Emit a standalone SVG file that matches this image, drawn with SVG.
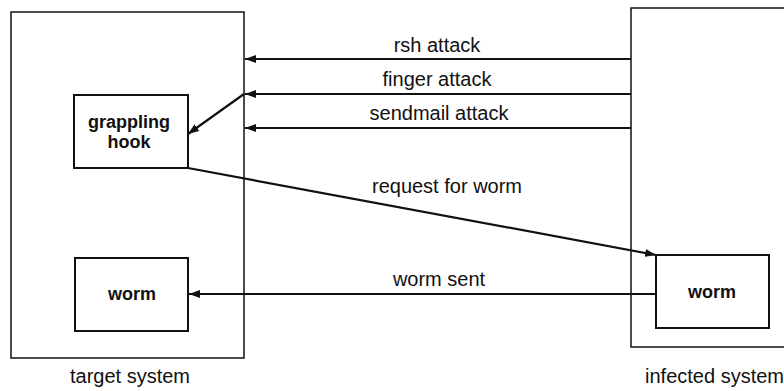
<svg xmlns="http://www.w3.org/2000/svg" width="784" height="391" viewBox="0 0 784 391">
<defs>
<style>
.sys{fill:none;stroke:#111;stroke-width:1.5}
.box{fill:#fff;stroke:#111;stroke-width:2}
.lbl{font-family:"Liberation Sans",Arial,sans-serif;font-size:20px;fill:#111;text-anchor:middle}
.nt{font-family:"Liberation Sans",Arial,sans-serif;font-size:18px;font-weight:bold;fill:#111;text-anchor:middle}
.arr{fill:none;stroke:#111;stroke-width:2.2;marker-end:url(#ah)}
</style>
<marker id="ah" viewBox="0 0 11 8" refX="11" refY="4" markerWidth="11" markerHeight="8" markerUnits="userSpaceOnUse" orient="auto">
<path d="M0,0 L11,4 L0,8 Z" fill="#111"/>
</marker>
</defs>
<rect width="784" height="391" fill="#fff"/>
<g id="target-system">
<rect class="sys" x="11" y="12" width="233" height="346"/>
<text class="lbl" x="130" y="383">target system</text>
</g>
<g id="infected-system">
<rect class="sys" x="631" y="8" width="200" height="339"/>
<text class="lbl" x="784" y="383" style="text-anchor:end">infected system</text>
</g>
<g id="grappling-hook">
<rect class="box" x="74" y="95" width="114" height="73"/>
<text class="nt" x="129" y="128">grappling</text>
<text class="nt" x="129" y="148">hook</text>
</g>
<g id="worm-target">
<rect class="box" x="75" y="258" width="113" height="73"/>
<text class="nt" x="132" y="300">worm</text>
</g>
<g id="worm-infected">
<rect class="box" x="656" y="255" width="113" height="73"/>
<text class="nt" x="712" y="298">worm</text>
</g>
<g id="connectors">
<line class="arr" x1="631" y1="59" x2="245" y2="59"/>
<line class="arr" x1="631" y1="94" x2="245" y2="94"/>
<line class="arr" x1="631" y1="128" x2="245" y2="128"/>
<line class="arr" x1="244" y1="94" x2="188" y2="134"/>
<line class="arr" x1="188" y1="168" x2="656" y2="255"/>
<line class="arr" x1="656" y1="294" x2="189" y2="294"/>
<text class="lbl" x="437" y="52">rsh attack</text>
<text class="lbl" x="437" y="86">finger attack</text>
<text class="lbl" x="439" y="120">sendmail attack</text>
<text class="lbl" x="447" y="193">request for worm</text>
<text class="lbl" x="439" y="286">worm sent</text>
</g>
</svg>
